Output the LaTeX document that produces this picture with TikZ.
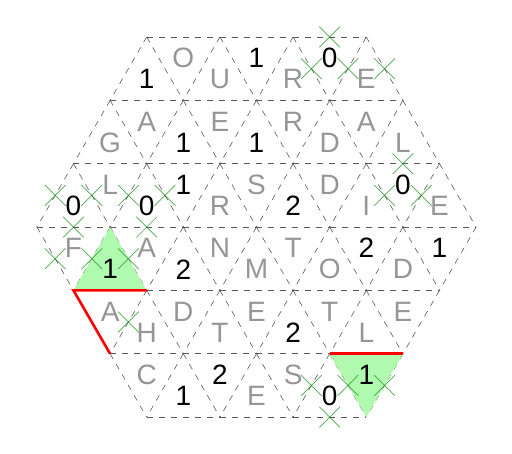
\documentclass[tikz,border=0pt]{standalone}
\usepackage{fontspec}
\setmainfont{Liberation Sans}
\usetikzlibrary{shapes.misc}
\definecolor{cellgreen}{RGB}{176,250,176}
\definecolor{xgreen}{RGB}{20,140,20}
\definecolor{letgray}{RGB}{150,150,150}
\begin{document}
\begin{tikzpicture}[x=36.6pt,y=-63.35pt,
  gridline/.style={draw=black!65,line width=0.6pt,dash pattern=on 6pt off 6pt},
  shade/.style={fill=cellgreen,draw=none},
  redline/.style={draw=red,line width=2.6pt},
  let/.style={text=letgray,inner sep=0pt,font=\fontsize{28pt}{28pt}\selectfont},
  num/.style={text=black,inner sep=0pt,font=\fontsize{28pt}{28pt}\selectfont},
  xmark/.style={cross out,draw=xgreen,draw opacity=0.75,line width=0.7pt,minimum size=20pt,inner sep=0pt}]
\useasboundingbox (-256.5pt,37pt) rectangle (255.5pt,-417pt);
% horizontal edges
\foreach \k in {0,...,6}{
  \pgfmathtruncatemacro\n{\k<=3 ? 3+\k : 9-\k}
  \pgfmathtruncatemacro\m{\n-1}
  \foreach \j in {0,...,\m}{
    \pgfmathtruncatemacro\a{-\n+2*\j}
    \draw[gridline] (\a,\k) -- ++(2,0);
  }
}
% slanted edges
\foreach \k in {0,...,5}{
  \pgfmathtruncatemacro\n{\k<=3 ? 3+\k : 9-\k}
  \foreach \j in {0,...,\n}{
    \pgfmathtruncatemacro\a{-\n+2*\j}
    \pgfmathtruncatemacro\l{(\k<3 || \j>0) ? 1 : 0}
    \pgfmathtruncatemacro\r{(\k<3 || \j<\n) ? 1 : 0}
    \ifnum\l=1 \draw[gridline] (\a,\k) -- ++(-1,1);\fi
    \ifnum\r=1 \draw[gridline] (\a,\k) -- ++(1,1);\fi
  }
}
% shaded cells
\fill[shade] (-4,3) -- (-5,4) -- (-3,4) -- cycle;
\fill[shade] (2,5) -- (4,5) -- (3,6) -- cycle;
% red segments
\coordinate (r1) at (-5,4);
\coordinate (r2) at (-3,4);
\coordinate (r3) at (-4,5);
\coordinate (r4) at (2,5);
\coordinate (r5) at (4,5);
\draw[redline] (r2) -- (r1) -- (r3);
\draw[redline] (r4) -- (r5);
% labels
\foreach \a/\y/\t/\s [count=\i] in {
 -3/0.667/1/num, -2/0.333/O/let, -1/0.667/U/let, 0/0.333/1/num, 1/0.667/R/let, 2/0.333/0/num, 3/0.667/E/let,
 -4/1.667/G/let, -3/1.333/A/let, -2/1.667/1/num, -1/1.333/E/let, 0/1.667/1/num, 1/1.333/R/let, 2/1.667/D/let, 3/1.333/A/let, 4/1.667/L/let,
 -5/2.667/0/num, -4/2.333/L/let, -3/2.667/0/num, -2/2.333/1/num, -1/2.667/R/let, 0/2.333/S/let, 1/2.667/2/num, 2/2.333/D/let, 3/2.667/I/let, 4/2.333/0/num, 5/2.667/E/let,
 -5/3.333/F/let, -4/3.667/1/num, -3/3.333/A/let, -2/3.667/2/num, -1/3.333/N/let, 0/3.667/M/let, 1/3.333/T/let, 2/3.667/O/let, 3/3.333/2/num, 4/3.667/D/let, 5/3.333/1/num,
 -4/4.333/A/let, -3/4.667/H/let, -2/4.333/D/let, -1/4.667/T/let, 0/4.333/E/let, 1/4.667/2/num, 2/4.333/T/let, 3/4.667/L/let, 4/4.333/E/let,
 -3/5.333/C/let, -2/5.667/1/num, -1/5.333/2/num, 0/5.667/E/let, 1/5.333/S/let, 2/5.667/0/num, 3/5.333/1/num}
 {\node[\s] (lab\i) at (\a,\y) {\t};}
% crosses on edges
\foreach \a/\y [count=\i] in {2/0,1.5/0.5,2.5/0.5,3.5/0.5,4/2,3.5/2.5,4.5/2.5,
 -5.5/2.5,-4.5/2.5,-5/3,-3.5/2.5,-2.5/2.5,-3/3,-5.5/3.5,-4.5/3.5,-3.5/3.5,-3.5/4.5,
 1.5/5.5,2.5/5.5,2/6,3.5/5.5}
 {\node[xmark] (x\i) at (\a,\y) {};}
\end{tikzpicture}
\end{document}
